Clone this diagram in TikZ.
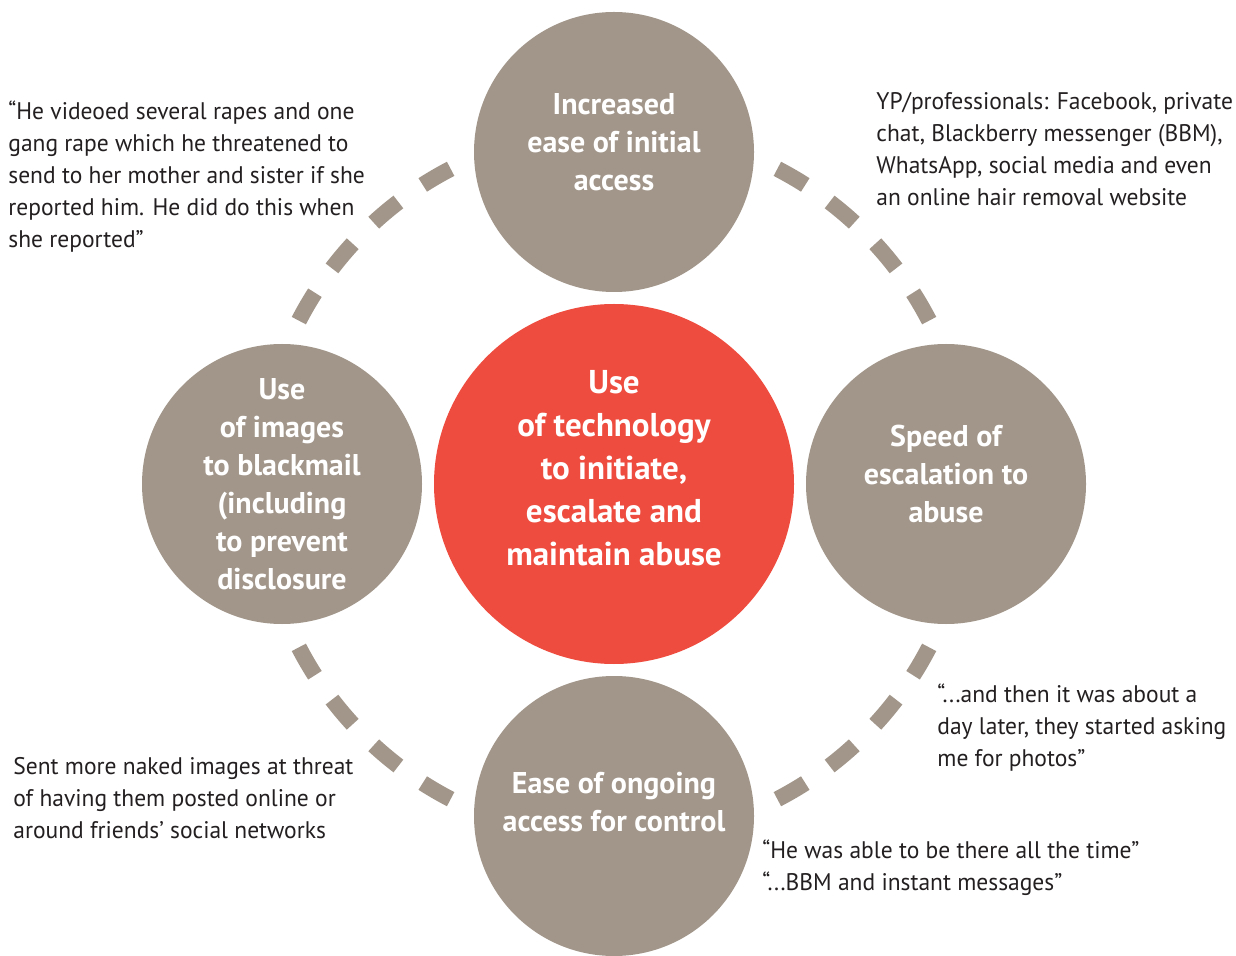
\documentclass[tikz,border=0pt]{standalone}
\usepackage{fontspec}
\setmainfont{PT Sans}[FakeStretch=0.98]
\newfontfamily\labelfont{PT Sans}
\usepackage{xcolor}
\definecolor{stone}{HTML}{A2968A}
\definecolor{alarm}{HTML}{EE4C3E}
\definecolor{ink}{HTML}{231F20}

\begin{document}
\begin{tikzpicture}[x=0.5pt, y=-0.5pt, node distance=166pt]
\tikzstyle{hub} = [circle, minimum size=180pt, inner sep=0pt, fill=alarm, text=white, align=center, font=\labelfont\bfseries\fontsize{16.5}{21.5}\selectfont]
\tikzstyle{spoke} = [circle, minimum size=140pt, inner sep=0pt, fill=stone, text=white, align=center, font=\labelfont\bfseries\fontsize{15}{19}\selectfont]
\tikzstyle{quote} = [anchor=north west, inner sep=0pt, align=left, text=ink, font=\fontsize{12}{16}\selectfont]
\tikzstyle{ring} = [draw=stone, line width=8pt]

\useasboundingbox (0,0) rectangle (1236,956);
\clip (0,0) rectangle (1236,956);

% Circles
\node (tech) [hub] at (614,484) {};
\node (access) [spoke, above of=tech] {};
\node (images) [spoke, left of=tech] {};
\node (speed) [spoke, right of=tech] {};
\node (control) [spoke, below of=tech] {};

% Dashed ring between the circles
\foreach \q in {0,90,180,270}
  \foreach \a in {30,40,50,60}
    \draw [ring] (tech.center) ++(\q+\a-2.6:355) arc[start angle=\q+\a-2.6, end angle=\q+\a+2.6, radius=355];

% Circle labels
\node (techtext) [hub, fill=none, yshift=8pt] at (tech) {Use\\of technology\\to initiate,\\escalate and\\maintain abuse};
\node (accesstext) [spoke, fill=none, yshift=5pt] at (access) {Increased\\ease of initial\\access};
\node (imagestext) [spoke, fill=none] at (images) {Use\\of images\\to blackmail\\(including\\to prevent\\disclosure};
\node (speedtext) [spoke, fill=none, yshift=5pt] at (speed) {Speed of\\escalation to\\abuse};
\node (controltext) [spoke, fill=none, yshift=7pt] at (control) {Ease of ongoing\\access for control};

% Quotes
\node (gang) [quote] at (8,100) {“He videoed several rapes and one\\gang rape which he threatened to\\send to her mother and sister if she\\reported him. He did do this when\\she reported”};
\node (apps) [quote] at (876,92) {YP/professionals: Facebook, private\\chat, Blackberry messenger (BBM),\\WhatsApp, social media and even\\an online hair removal website};
\node (naked) [quote] at (13,757) {Sent more naked images at threat\\of having them posted online or\\around friends’ social networks};
\node (photos) [quote] at (937,683) {“...and then it was about a\\day later, they started asking\\me for photos”};
\node (bbm) [quote] at (762,839) {“He was able to be there all the time”\\“...BBM and instant messages”};

\end{tikzpicture}
\end{document}
